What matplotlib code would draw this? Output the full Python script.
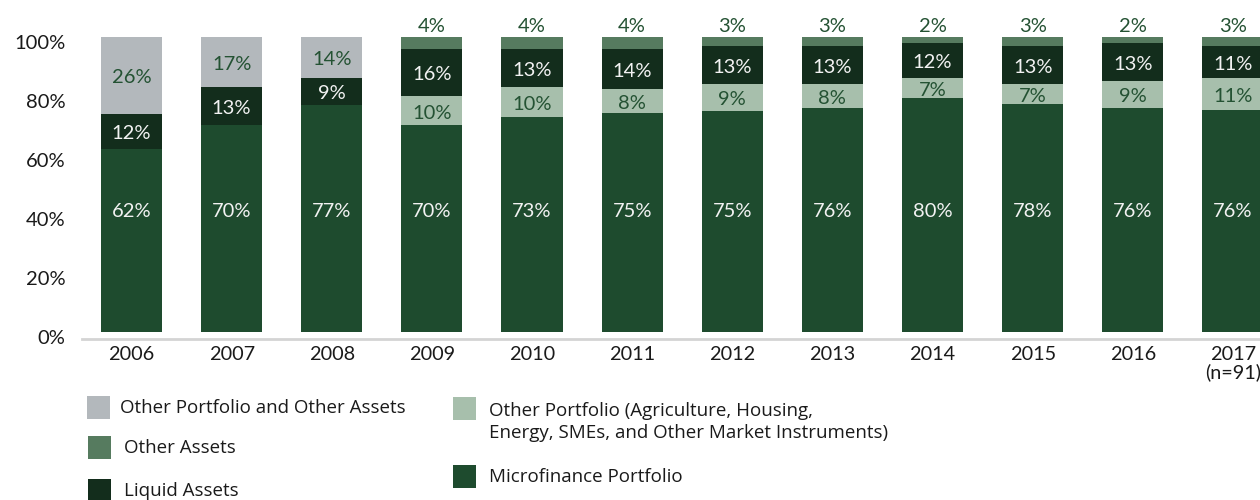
import numpy as np
import matplotlib.pyplot as plt
from matplotlib.patches import Rectangle

years = ['2006', '2007', '2008', '2009', '2010', '2011', '2012', '2013',
         '2014', '2015', '2016', '2017\n(n=91)']
microfinance = [62, 70, 77, 70, 73, 75, 75, 76, 80, 78, 76, 76]
other_portfolio = [0, 0, 0, 10, 10, 8, 9, 8, 7, 7, 9, 11]
liquid = [12, 13, 9, 16, 13, 14, 13, 13, 12, 13, 13, 11]
other_assets = [0, 0, 0, 4, 4, 4, 3, 3, 2, 3, 2, 3]
other_port_assets = [26, 17, 14, 0, 0, 0, 0, 0, 0, 0, 0, 0]
yticks = [0, 20, 40, 60, 80, 100]

c_gray = '#b3b8bc'
c_oa = '#567b5f'
c_liq = '#132d1c'
c_op = '#a7bfac'
c_mf = '#1e4b2e'
c_txt = '#245233'

plt.rcParams['font.family'] = ['Lato', 'DejaVu Sans']

fig = plt.figure(figsize=(12.6, 5), dpi=100)
ax = fig.add_axes([82 / 1260, 161 / 500, 1 - 82 / 1260, 339 / 500])

x = np.arange(len(years))
w = 0.61
series = [(microfinance, c_mf, '#f2f2f2'),
          (other_portfolio, c_op, c_txt),
          (liquid, c_liq, '#f2f2f2'),
          (other_assets, c_oa, None),
          (other_port_assets, c_gray, c_txt)]
total = np.sum([np.array(s[0], float) for s in series], axis=0)

bottom = np.zeros(len(years))
for k, (vals, col, tcol) in enumerate(series):
    v = np.array(vals, float)
    h = v / total * 100
    ax.bar(x, h, w, bottom=bottom, color=col, linewidth=0)
    for i in range(len(years)):
        if v[i] == 0:
            continue
        if k == 0:
            yy = 41
        elif tcol is None:
            yy = 103.6
        else:
            yy = bottom[i] + h[i] / 2 - 0.8
        ax.text(x[i], yy, f'{int(v[i])}%', ha='center', va='center',
                fontsize=14.5, color=tcol if tcol else c_txt)
    bottom += h

ax.set_xlim(-0.494, 11.27)
ax.set_ylim(-2.37, 112.5)
ax.set_xticks(x)
ax.set_xticklabels(years, fontsize=14.3, color='#1a1a1a', linespacing=1.0)
ax.set_yticks([t - 1.7 for t in yticks])
ax.set_yticklabels([f'{t}%' for t in yticks], fontsize=14.5, color='#1a1a1a')
ax.tick_params(axis='both', length=0)
ax.tick_params(axis='y', pad=12)
ax.tick_params(axis='x', pad=5)
for s in ['top', 'right', 'left']:
    ax.spines[s].set_visible(False)
ax.spines['bottom'].set_color('#d4d4d4')
ax.spines['bottom'].set_linewidth(2)

# legend
legend_items = [
    (87, 396, c_gray, 120, 408, 'Other Portfolio and Other Assets'),
    (88, 436, c_oa, 124, 448, 'Other Assets'),
    (88, 479, c_liq, 124, 491, 'Liquid Assets'),
    (453, 397, c_op, 489, 422, 'Other Portfolio (Agriculture, Housing,\nEnergy, SMEs, and Other Market Instruments)'),
    (453, 465, c_mf, 489, 477, 'Microfinance Portfolio'),
]
for px, py, col, tx, ty, label in legend_items:
    fig.patches.append(Rectangle((px / 1260, 1 - (py + 23) / 500), 23 / 1260, 23 / 500,
                                 transform=fig.transFigure, color=col, linewidth=0))
    fig.text(tx / 1260, 1 - ty / 500, label, ha='left', va='center',
             fontsize=13.5, family=['Open Sans', 'DejaVu Sans'], color='#1a1a1a',
             linespacing=1.3)

fig.savefig('out.png', dpi=100)
